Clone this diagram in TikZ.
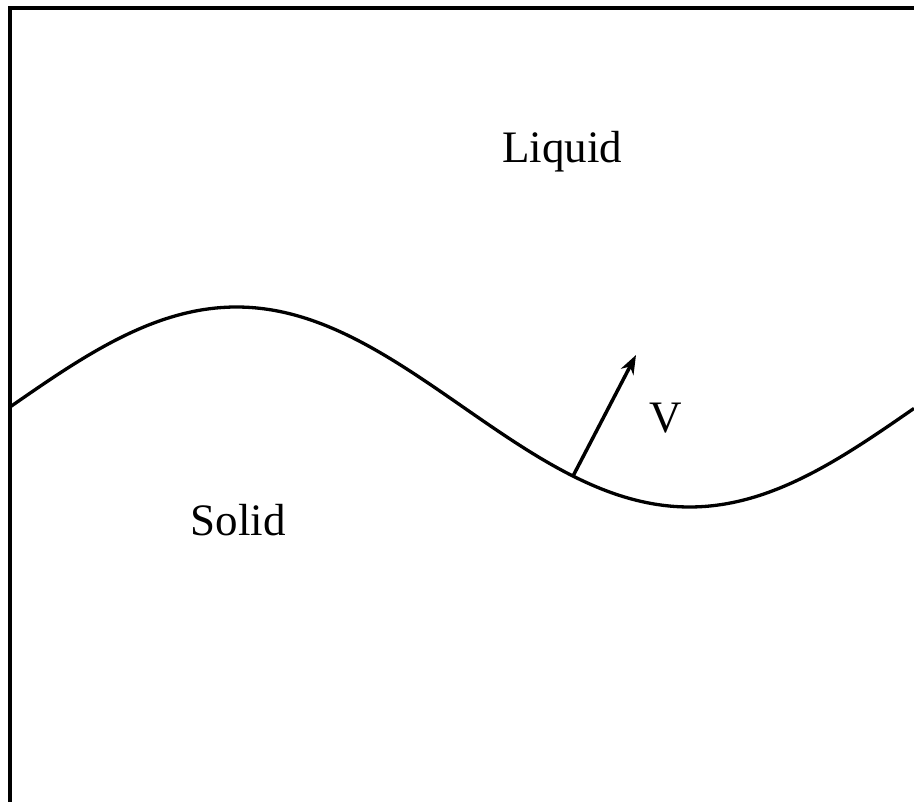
\documentclass[tikz,border=0pt]{standalone}
\usepackage{fontspec}
\setmainfont{Liberation Serif}
\usetikzlibrary{arrows.meta}
\begin{document}
\begin{tikzpicture}[x=1pt,y=-1pt,
  lbl/.style={font=\fontsize{45}{54}\selectfont, inner sep=0pt},
  vec/.style={line width=3.5pt, -{Stealth[length=19pt,width=14pt,inset=6pt]}}]
\useasboundingbox (0,0) rectangle (914,802);
\clip (0,0) rectangle (914,802);
\fill[white] (0,0) rectangle (914,802);
\draw[line width=4pt] (10,8.5) rectangle (930,830);
\draw[line width=3.3pt] plot[smooth, domain=10:914, samples=120] (\x, {407-100*sin(((\x-10)/906)*360)});
\coordinate (foot) at (573,{407-100*sin(((573-10)/906)*360)});
\coordinate (tip) at (636,355);
\draw[vec] (foot) -- (tip);
\node[lbl] (liquid) at (562,152) {Liquid};
\node[lbl] (solid) at (238,520) {Solid};
\node[lbl] (v) at (666,418) {V};
\end{tikzpicture}
\end{document}
